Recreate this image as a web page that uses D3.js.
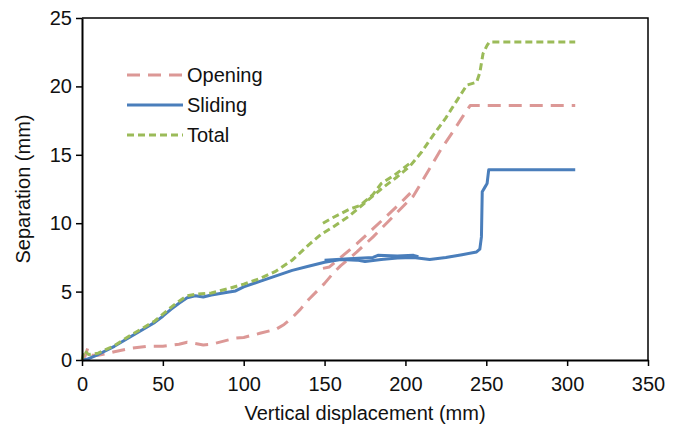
<!DOCTYPE html>
<html>
<head>
<meta charset="utf-8">
<script src="https://cdn.jsdelivr.net/npm/d3@7"></script>
<style>
  body { margin: 0; background: #fff; }
  text { font-family: "Liberation Sans", Arial, Helvetica, sans-serif; fill: #111; }
</style>
</head>
<body>
<svg id="chart" width="678" height="427"></svg>
<script>
// ----------------------
// data
// ----------------------
const xTicks = [0, 50, 100, 150, 200, 250, 300, 350];
const yTicks = [0, 5, 10, 15, 20, 25];

// each series = list of polylines [x, y]
const openingMain = [[0,0],[2,0.3],[3.5,0.85],[6,0.35],[10,0.35],[15,0.45],[20,0.6],[30,0.85],[40,1.0],
  [50,1.0],[60,1.15],[65,1.3],[70,1.2],[75,1.1],[80,1.15],[90,1.45],[95,1.6],[100,1.65],[110,1.95],
  [120,2.25],[125,2.6],[130,3.1],[135,3.7],[140,4.4],[145,5.0],[150,5.6],[155,6.3],[160,6.9],[170,7.9],
  [180,9.0],[190,10.2],[200,11.4],[205,12.0],[210,13.0],[215,14.0],[222,15.4],[230,16.8],[236,17.9],
  [240,18.6],[250,18.6],[305,18.6]];
const openingLoop = [[149,6.7],[153,6.8],[160,7.5],[170,8.5],[180,9.6],[190,10.7],[198,11.6],[203,12.2]];

const slidingMain = [[0,0],[3,0.05],[10,0.4],[20,1.0],[30,1.7],[40,2.4],[45,2.75],[50,3.2],[55,3.7],
  [60,4.15],[65,4.55],[70,4.7],[75,4.6],[80,4.75],[90,4.95],[95,5.05],[100,5.35],[110,5.75],[120,6.15],
  [130,6.55],[140,6.85],[150,7.15],[160,7.35],[170,7.3],[175,7.2],[185,7.35],[195,7.45],[205,7.5],
  [215,7.35],[225,7.5],[235,7.7],[244,7.9],[246,8.1],[247,9.0],[247.5,12.3],[249,12.6],[250.5,12.9],
  [251.5,13.9],[260,13.9],[305,13.9]];
const slidingLoop = [[150,7.3],[165,7.4],[180,7.5],[183,7.65],[195,7.6],[205,7.65],[208,7.55]];

const totalMain = [[0,0],[1.5,0.7],[4,0.4],[10,0.5],[20,1.05],[30,1.8],[40,2.5],[45,2.85],[50,3.35],
  [55,3.85],[60,4.3],[65,4.7],[70,4.8],[80,4.9],[90,5.2],[100,5.55],[110,5.95],[120,6.5],[130,7.3],
  [140,8.4],[148,9.2],[155,9.7],[165,10.5],[175,11.5],[185,12.5],[195,13.4],[203,14.2],[210,15.2],
  [217,16.4],[225,17.7],[232,19.0],[238,20.1],[244,20.3],[246,21.0],[248,22.4],[250.5,23.0],
  [252,23.25],[305,23.25]];
const totalLoop = [[149,10.0],[155,10.4],[165,11.0],[172,11.3],[180,12.1],[185,12.9],[193,13.5],[203,14.4]];

const seriesNames = ["Opening", "Sliding", "Total"];
const seriesLines = [[openingMain, openingLoop], [slidingMain, slidingLoop], [totalMain, totalLoop]];
const seriesColors = ["#dc9896", "#4a7ebb", "#9bbb59"];
const seriesDash = ["13,8", null, "7,4"];

const FONT_SIZE = 20;

// ----------------------
// layout
// ----------------------
const svg = d3.select("#chart");
const margin = { top: 18, right: 30, bottom: 67, left: 82 };
const width = 678 - margin.left - margin.right;
const height = 427 - margin.top - margin.bottom;

const g = svg.append("g")
    .attr("transform", `translate(${margin.left},${margin.top})`);

const x = d3.scaleLinear().domain([0, 350]).range([0, width]);
const y = d3.scaleLinear().domain([0, 25]).range([height, 0]);

// top / right frame
g.append("path")
    .attr("d", `M0,0H${width}V${height}`)
    .attr("fill", "none")
    .attr("stroke", "#000")
    .attr("stroke-width", 1.5);

// lines
const lineGen = d3.line()
    .x(d => x(d[0]))
    .y(d => y(d[1]));

seriesLines.forEach((parts, i) => {
    parts.forEach(pts => {
        g.append("path")
            .datum(pts)
            .attr("fill", "none")
            .attr("stroke", seriesColors[i])
            .attr("stroke-width", 3)
            .attr("stroke-linejoin", "round")
            .attr("stroke-dasharray", seriesDash[i])
            .attr("d", lineGen);
    });
});

// axes
const xAxis = g.append("g")
    .attr("transform", `translate(0,${height})`)
    .call(d3.axisBottom(x).tickValues(xTicks).tickSize(6).tickSizeOuter(0).tickPadding(11));
const yAxis = g.append("g")
    .call(d3.axisLeft(y).tickValues(yTicks).tickSize(6).tickSizeOuter(0).tickPadding(4));

[xAxis, yAxis].forEach(ax => {
    ax.select(".domain").attr("stroke", "#000").attr("stroke-width", 2);
    ax.selectAll(".tick line").attr("stroke", "#000").attr("stroke-width", 1.5);
    ax.selectAll(".tick text")
        .attr("font-family", "Liberation Sans, Arial, sans-serif")
        .attr("font-size", FONT_SIZE)
        .attr("fill", "#111");
});

// axis titles
g.append("text")
    .attr("x", width / 2)
    .attr("y", height + 60)
    .attr("text-anchor", "middle")
    .attr("font-size", FONT_SIZE)
    .text("Vertical displacement (mm)");

g.append("text")
    .attr("transform", "rotate(-90)")
    .attr("x", -height / 2)
    .attr("y", -52)
    .attr("text-anchor", "middle")
    .attr("font-size", FONT_SIZE)
    .text("Separation (mm)");

// legend
const legend = svg.append("g").attr("transform", "translate(127,75)");
seriesNames.forEach((name, i) => {
    const row = legend.append("g").attr("transform", `translate(0,${i * 30})`);
    row.append("line")
        .attr("x1", 0).attr("x2", 56)
        .attr("stroke", seriesColors[i])
        .attr("stroke-width", 3)
        .attr("stroke-dasharray", seriesDash[i]);
    row.append("text")
        .attr("x", 60)
        .attr("dy", "0.35em")
        .attr("font-size", FONT_SIZE)
        .text(name);
});
</script>
</body>
</html>
